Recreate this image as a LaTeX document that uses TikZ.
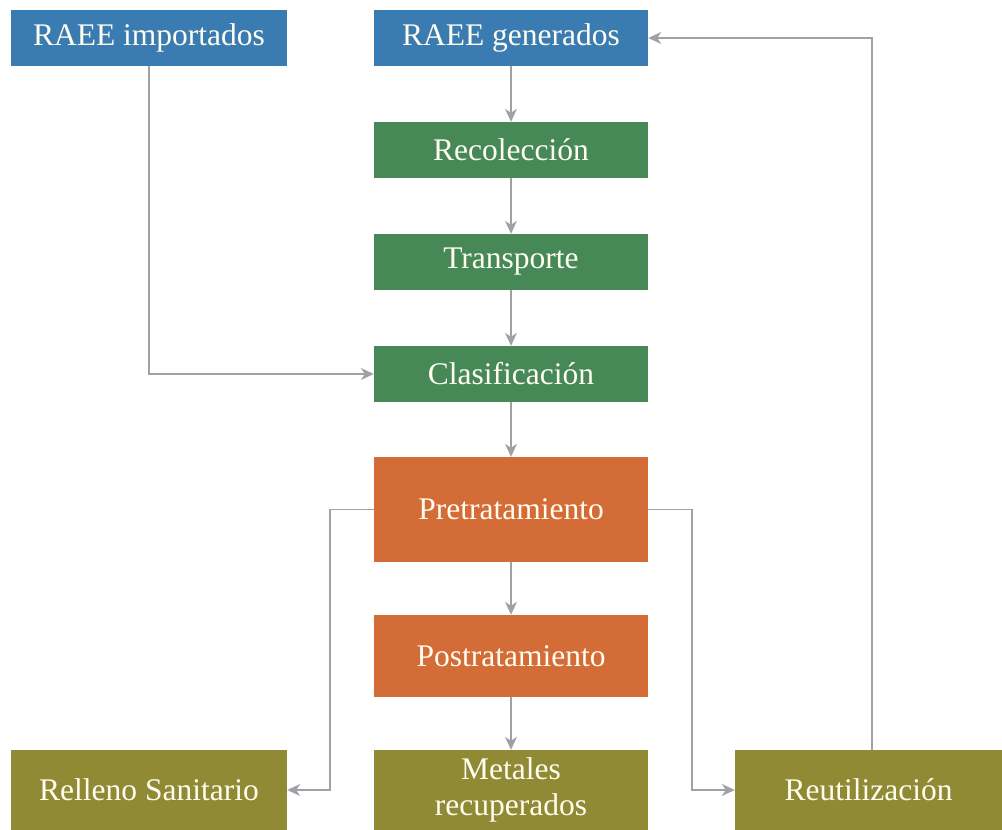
\documentclass[tikz,border=0pt]{standalone}
\usepackage{fontspec}
\setmainfont{Liberation Serif}
\usepackage{xcolor}
\usetikzlibrary{arrows.meta,positioning}

\definecolor{raeeblue}{RGB}{58,124,177}
\definecolor{procgreen}{RGB}{70,137,87}
\definecolor{treatorange}{RGB}{212,108,56}
\definecolor{endolive}{RGB}{145,138,53}
\definecolor{linkgray}{RGB}{160,161,166}
\definecolor{boxtext}{RGB}{255,253,240}

\begin{document}
\begin{tikzpicture}[x=1pt, y=-1pt,
    box/.style={inner sep=0pt, text=boxtext, align=center,
        font=\fontsize{31.5}{36}\selectfont, minimum width=274pt},
    flow/.style={draw=linkgray, line width=1.5pt, -{Stealth[length=13pt, width=12pt, inset=4pt]}}]

\useasboundingbox (0,0) rectangle (1002,830);

% Sources
\node[box, fill=raeeblue, minimum width=276pt, minimum height=56pt] (imp) at (149,38) {RAEE importados};
\node[box, fill=raeeblue, minimum height=56pt] (gen) at (511,38) {RAEE generados};

% Collection chain
\node[box, fill=procgreen, minimum height=56pt] (rec) at (511,150) {Recolección};
\node[box, fill=procgreen, minimum height=56pt] (tra) at (511,262) {Transporte};
\node[box, fill=procgreen, minimum height=56pt] (cla) at (511,374) {Clasificación};

% Treatment
\node[box, fill=treatorange, minimum height=105pt] (pre) at (511,509.5) {Pretratamiento};
\node[box, fill=treatorange, minimum height=82pt] (pos) at (511,656) {Postratamiento};

% Destinations
\node[box, fill=endolive, minimum width=276pt, minimum height=80pt] (rel) at (149,790) {Relleno Sanitario};
\node[box, fill=endolive, minimum height=80pt] (met) at (511,790) {Metales\\recuperados};
\node[box, fill=endolive, minimum width=267pt, minimum height=80pt] (reu) at (868.5,790) {Reutilización};

% Links
\draw[flow] (gen) -- (rec);
\draw[flow] (rec) -- (tra);
\draw[flow] (tra) -- (cla);
\draw[flow] (cla) -- (pre);
\draw[flow] (pre) -- (pos);
\draw[flow] (pos) -- (met);
\draw[flow] (imp.south) |- (cla.west);
\draw[flow] (pre.west) -- ++(-44,0) |- (rel.east);
\draw[flow] (pre.east) -- ++(44,0) |- (reu.west);
\draw[flow] ([xshift=3.5pt]reu.north) |- (gen.east);

\end{tikzpicture}
\end{document}
